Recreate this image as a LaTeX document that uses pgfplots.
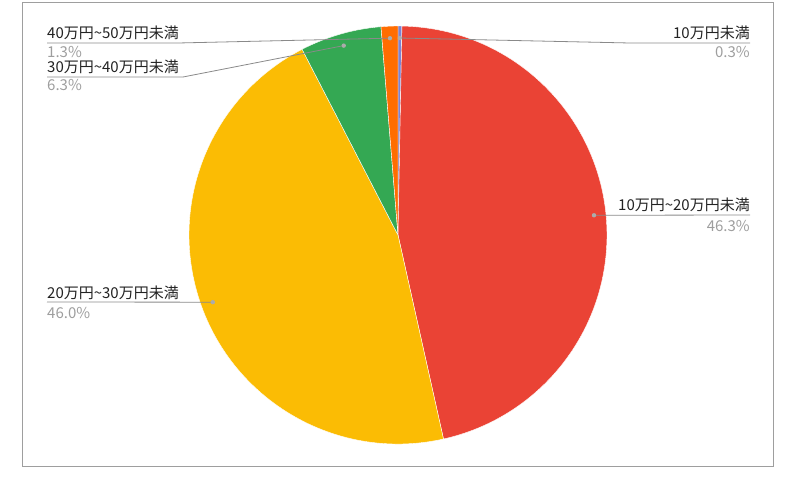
\documentclass[border=0pt]{standalone}
\usepackage{fontspec}
\setmainfont{Noto Sans CJK JP}
\usepackage{pgfplots}
\usepackage{pgfplotstable}
\pgfplotsset{compat=1.18}

\definecolor{col0}{HTML}{7B83D4}
\definecolor{col1}{HTML}{EA4335}
\definecolor{col2}{HTML}{FBBC04}
\definecolor{col3}{HTML}{34A853}
\definecolor{col4}{HTML}{FF6D01}
\definecolor{labtxt}{HTML}{222222}
\definecolor{pcttxt}{HTML}{9E9E9E}
\definecolor{leader}{HTML}{8A8A8A}
\definecolor{frame}{HTML}{9E9E9E}

% share of each income band (%), clockwise from 12 o'clock
\pgfplotstableread{
band value
0 0.3
1 46.3
2 46.0
3 6.3
4 1.3
}\piedata

% cumulative angles (kept in the preamble so no stray spaces reach the page)
\pgfmathsetmacro\total{0}
\pgfplotsforeachungrouped \i in {0,...,4}{%
  \pgfplotstablegetelem{\i}{value}\of\piedata%
  \pgfmathsetmacro\total{\total+\pgfplotsretval}%
}%
\pgfmathsetmacro\dpp{360/\total}%
\pgfmathsetmacro\cum{0}%
\pgfplotsforeachungrouped \i in {0,...,4}{%
  \pgfplotstablegetelem{\i}{value}\of\piedata%
  \pgfmathsetmacro\sa{90-\dpp*\cum}%
  \pgfmathsetmacro\cum{\cum+\pgfplotsretval}%
  \pgfmathsetmacro\ea{90-\dpp*\cum}%
  \pgfmathsetmacro\ma{(\sa+\ea)/2}%
  \expandafter\xdef\csname sa\i\endcsname{\sa}%
  \expandafter\xdef\csname ea\i\endcsname{\ea}%
  \expandafter\xdef\csname ma\i\endcsname{\ma}%
}%

\begin{document}
\begin{tikzpicture}
\begin{axis}[
  at={(0,0)}, anchor=south west,
  scale only axis, width=790bp, height=486bp,
  xmin=0, xmax=790, ymin=0, ymax=486,
  y dir=reverse,
  hide axis, clip=false,
  ]
  % frame
  \draw[frame, line width=0.8bp] (axis cs:22,2) rectangle (axis cs:773,466);
  % slices
  \pgfplotsinvokeforeach{0,...,4}{
    \fill[col#1, draw=white, line width=0.4bp]
      (axis cs:398,235) -- ++(\csname sa#1\endcsname:209bp)
      arc[start angle=\csname sa#1\endcsname, end angle=\csname ea#1\endcsname, radius=209bp]
      -- cycle;
    \path (axis cs:398,235) ++(\csname ma#1\endcsname:197bp) coordinate (d#1);
  }
  % leader lines
  \draw[leader, line width=0.8bp] (d0) -- (axis cs:630,43) -- (axis cs:750,43);
  \draw[leader, line width=0.8bp] (d1) -- (axis cs:750,215);
  \draw[leader, line width=0.8bp] (d2) -- (axis cs:47,302);
  \draw[leader, line width=0.8bp] (d3) -- (axis cs:183,77) -- (axis cs:47,77);
  \draw[leader, line width=0.8bp] (d4) -- (axis cs:178,43) -- (axis cs:47,43);
  \pgfplotsinvokeforeach{0,...,4}{
    \fill[black!33] (d#1) circle[radius=2.2bp];
  }
  % labels
  \tikzset{lab/.style={inner sep=0pt, font=\fontsize{15bp}{17bp}\selectfont, text=labtxt},
           pct/.style={inner sep=0pt, font=\fontsize{15bp}{17bp}\selectfont, text=pcttxt}}
  \node[lab, anchor=base east] at (axis cs:750,39) {10万円未満};
  \node[pct, anchor=base east] at (axis cs:750,58) {0.3\%};
  \node[lab, anchor=base east] at (axis cs:750,210) {10万円\textasciitilde 20万円未満};
  \node[pct, anchor=base east] at (axis cs:750,231) {46.3\%};
  \node[lab, anchor=base west] at (axis cs:47,298) {20万円\textasciitilde 30万円未満};
  \node[pct, anchor=base west] at (axis cs:47,318) {46.0\%};
  \node[lab, anchor=base west] at (axis cs:47,73) {30万円\textasciitilde 40万円未満};
  \node[pct, anchor=base west] at (axis cs:47,91) {6.3\%};
  \node[lab, anchor=base west] at (axis cs:47,39) {40万円\textasciitilde 50万円未満};
  \node[pct, anchor=base west] at (axis cs:47,58) {1.3\%};
\end{axis}
\pgfresetboundingbox
\path[use as bounding box] (0,0) rectangle (790bp,486bp);
\end{tikzpicture}
\end{document}
